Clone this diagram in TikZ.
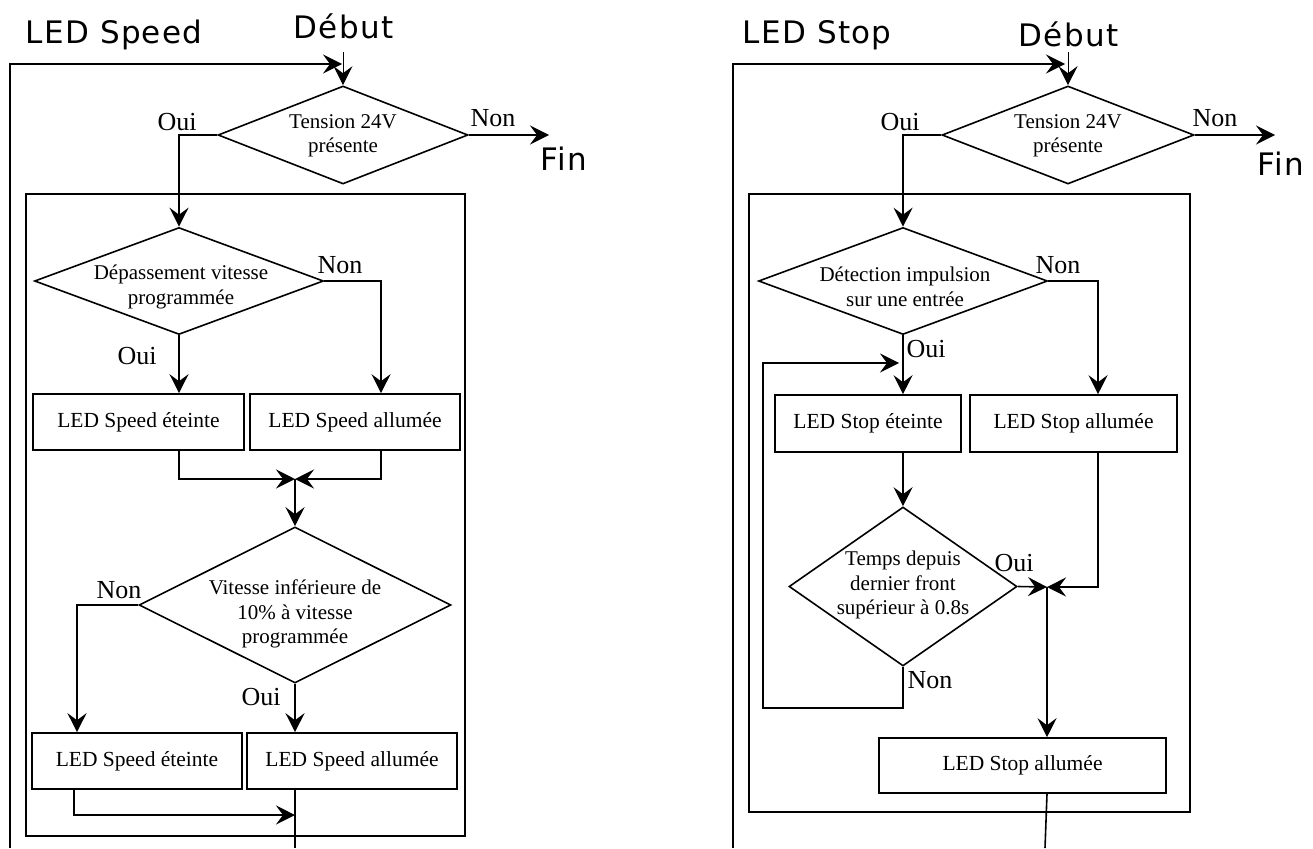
\documentclass[tikz,border=0pt]{standalone}
\usepackage{fontspec}
\setmainfont{Liberation Serif}
\newfontfamily\ttlfont[LetterSpace=4]{DejaVu Sans}
\usepackage{tikz}
\usetikzlibrary{arrows.meta,shapes.geometric}

\tikzset{
  dec/.style={draw,diamond,inner sep=0pt},
  dtxt/.style={align=center,inner sep=0pt,font=\fontsize{21}{24.5}\selectfont},
  act/.style={draw,rectangle,inner sep=0pt,font=\fontsize{21.5}{25}\selectfont},
  rep/.style={inner sep=0pt,anchor=base,font=\fontsize{26}{30}\selectfont},
  ttl/.style={inner sep=0pt,anchor=base west,font=\ttlfont\fontsize{31}{36}\selectfont},
  flow/.style={-{Stealth[length=19pt,width=19pt,inset=7pt]}}
}

\begin{document}
\begin{tikzpicture}[x=1pt,y=-1pt,line width=1.6pt]
  \useasboundingbox (0,0) rectangle (1313,848);

  % --- LED Speed ---
  \node[ttl] (ttlL) at (25,44) {LED Speed};
  \node[ttl] (debL) at (293,39) {Début};
  \node[ttl] (finL) at (540,170) {Fin};
  \draw (26,194) rectangle (465,836);

  \node[dec,minimum width=250pt,minimum height=98pt] (d1) at (343,135) {};
  \node[dtxt] (d1t) at (343,136) {Tension 24V\\présente};
  \node[dec,minimum width=289pt,minimum height=107pt] (d2) at (179,281) {};
  \node[dtxt] (d2t) at (181,287) {Dépassement vitesse\\programmée};
  \node[act,minimum width=211pt,minimum height=56pt] (bA) at (138.5,422) {LED Speed éteinte};
  \node[act,minimum width=210pt,minimum height=56pt] (bB) at (355,422) {LED Speed allumée};
  \node[dec,minimum width=312pt,minimum height=156pt] (d3) at (295,605) {};
  \node[dtxt] (d3t) at (295,614) {Vitesse inférieure de\\10\% à vitesse\\programmée};
  \node[act,minimum width=210pt,minimum height=56pt] (bC) at (137,761) {LED Speed éteinte};
  \node[act,minimum width=210pt,minimum height=56pt] (bD) at (352,761) {LED Speed allumée};

  \node[rep] (o1) at (177,130) {Oui};
  \node[rep] (n1) at (493,127) {Non};
  \node[rep] (n2) at (340,273) {Non};
  \node[rep] (o2) at (137,364) {Oui};
  \node[rep] (n3) at (119,598) {Non};
  \node[rep] (o3) at (261,705) {Oui};

  \coordinate (inL) at (343,52);
  \coordinate (retL) at (342,64);
  \coordinate (loopL) at (10,848);
  \coordinate (exitL) at (549,135);
  \coordinate (mergeL) at (295,479);
  \coordinate (mergeL2) at (295,815);
  \coordinate (outL) at (295,848);

  \draw[flow,line width=1pt] (inL) -- (d1.north);
  \draw[flow] (loopL) |- (retL);
  \draw[flow] (d1.east) -- (exitL);
  \draw[flow] (d1.west) -| (d2.north);
  \draw[flow] (d2.south) -- (bA.north -| d2.south);
  \draw[flow] (d2.east) -| ([xshift=26pt]bB.north);
  \draw[flow] ([xshift=40.5pt]bA.south) |- (mergeL);
  \draw[flow] ([xshift=26pt]bB.south) |- (mergeL);
  \draw[flow] (mergeL) -- (d3.north);
  \draw[flow] (d3.west) -| ([xshift=-60pt]bC.north);
  \draw[flow] (d3.south) -- (bD.north -| d3.south);
  \draw[flow] ([xshift=-63pt]bC.south) |- (mergeL2);
  \draw (bD.south -| d3.south) -- (outL);

  % --- LED Stop ---
  \node[ttl] (ttlR) at (742,44) {LED Stop};
  \node[ttl] (debR) at (1018,47) {Début};
  \node[ttl] (finR) at (1257,175) {Fin};
  \draw (749,194) rectangle (1190,812);

  \node[dec,minimum width=252pt,minimum height=98pt] (d4) at (1068,135) {};
  \node[dtxt] (d4t) at (1068,136) {Tension 24V\\présente};
  \node[dec,minimum width=289pt,minimum height=107pt] (d5) at (903,281) {};
  \node[dtxt] (d5t) at (905,287) {Détection impulsion\\sur une entrée};
  \node[act,minimum width=186pt,minimum height=57pt] (bE) at (868,423.5) {LED Stop éteinte};
  \node[act,minimum width=207pt,minimum height=57pt] (bF) at (1073.5,423.5) {LED Stop allumée};
  \node[dec,minimum width=228pt,minimum height=159pt] (d6) at (903,586.5) {};
  \node[dtxt] (d6t) at (903,585) {Temps depuis\\dernier front\\supérieur à 0.8s};
  \node[act,minimum width=287pt,minimum height=55pt] (bG) at (1022.5,765.5) {LED Stop allumée};

  \node[rep] (o4) at (900,130) {Oui};
  \node[rep] (n4) at (1215,127) {Non};
  \node[rep] (n5) at (1058,273) {Non};
  \node[rep] (o5) at (926,357) {Oui};
  \node[rep] (o6) at (1014,571) {Oui};
  \node[rep] (n6) at (930,688) {Non};

  \coordinate (inR) at (1068,52);
  \coordinate (retR) at (1065,64);
  \coordinate (loopR) at (733,848);
  \coordinate (exitR) at (1275,135);
  \coordinate (mergeR) at (1047,587);
  \coordinate (holdR) at (763,708);
  \coordinate (backR) at (899,363);
  \coordinate (outR) at (1045,848);

  \draw[flow,line width=1pt] (inR) -- (d4.north);
  \draw[flow] (loopR) |- (retR);
  \draw[flow] (d4.east) -- (exitR);
  \draw[flow] (d4.west) -| (d5.north);
  \draw[flow] (d5.south) -- (bE.north -| d5.south);
  \draw[flow] (d5.east) -| ([xshift=24.5pt]bF.north);
  \draw[flow] ([xshift=35pt]bE.south) -- (d6.north);
  \draw[flow] (d6.east) -- (mergeR);
  \draw[flow] ([xshift=24.5pt]bF.south) |- (mergeR);
  \draw[flow] (mergeR) -- (bG.north -| mergeR);
  \draw[flow] (d6.south) |- (holdR) |- (backR);
  \draw ([xshift=24.5pt]bG.south) -- (outR);
\end{tikzpicture}
\end{document}
